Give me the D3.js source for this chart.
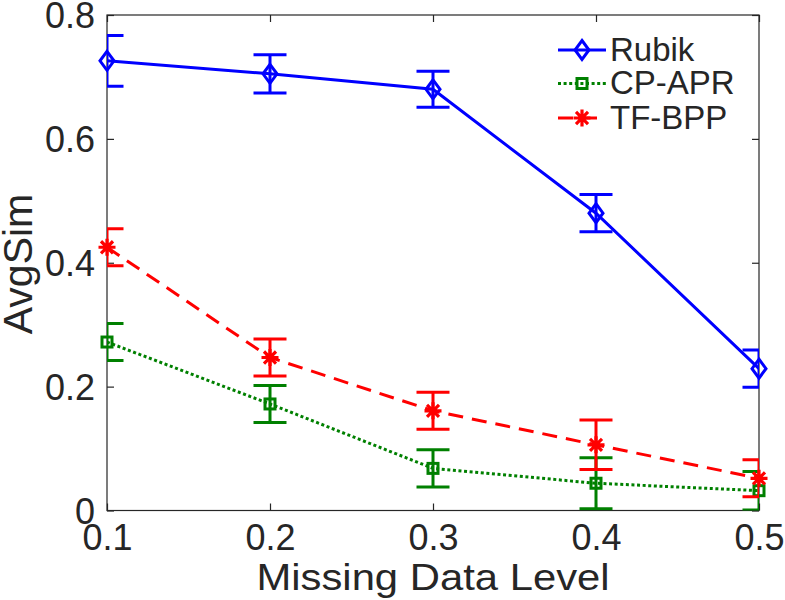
<!DOCTYPE html>
<html>
<head>
<meta charset="utf-8">
<script src="https://cdn.jsdelivr.net/npm/d3@7"></script>
<style>
  html, body { margin: 0; padding: 0; background: #fff; }
  svg { display: block; }
  text { font-family: "Liberation Sans", Arial, Helvetica, sans-serif; fill: #262626; }
</style>
</head>
<body>
<svg id="chart" width="785" height="600"></svg>
<script>
// ---- data ----
const missingLevels = [0.1, 0.2, 0.3, 0.4, 0.5];
const seriesNames = ["Rubik", "CP-APR", "TF-BPP"];
const rubikMean = [0.726, 0.705, 0.680, 0.480, 0.229];
const rubikErr  = [0.041, 0.031, 0.029, 0.030, 0.030];
const cpaprMean = [0.272, 0.172, 0.068, 0.044, 0.032];
const cpaprErr  = [0.030, 0.030, 0.030, 0.041, 0.031];
const tfbppMean = [0.425, 0.247, 0.161, 0.106, 0.052];
const tfbppErr  = [0.030, 0.030, 0.030, 0.040, 0.030];
const xTicks = [0.1, 0.2, 0.3, 0.4, 0.5];
const yTicks = [0, 0.2, 0.4, 0.6, 0.8];
const xTickLabels = ["0.1", "0.2", "0.3", "0.4", "0.5"];
const yTickLabels = ["0", "0.2", "0.4", "0.6", "0.8"];
const xTitle = "Missing Data Level";
const yTitle = "AvgSim";

// ---- layout ----
const svg = d3.select("#chart");
const L = 107, R = 759, T = 15, B = 510.5;
const x = d3.scaleLinear().domain([0.1, 0.5]).range([L, R]);
const y = d3.scaleLinear().domain([0, 0.8]).range([B, T]);
const axisColor = "#262626";

svg.append("defs").append("clipPath").attr("id", "plotclip")
  .append("rect").attr("x", L).attr("y", T).attr("width", R - L).attr("height", B - T);

// axes box + ticks
const gAx = svg.append("g");
const tickLen = 7;
const axBottom = gAx.append("g").attr("transform", `translate(0,${B})`)
  .call(d3.axisBottom(x).tickValues(xTicks).tickSize(-tickLen).tickFormat((d, i) => xTickLabels[i]));
const axTop = gAx.append("g").attr("transform", `translate(0,${T})`)
  .call(d3.axisTop(x).tickValues(xTicks).tickSize(-tickLen).tickFormat(""));
const axLeft = gAx.append("g").attr("transform", `translate(${L},0)`)
  .call(d3.axisLeft(y).tickValues(yTicks).tickSize(-tickLen).tickFormat((d, i) => yTickLabels[i]));
const axRight = gAx.append("g").attr("transform", `translate(${R},0)`)
  .call(d3.axisRight(y).tickValues(yTicks).tickSize(-tickLen).tickFormat(""));

[axBottom, axTop, axLeft, axRight].forEach(g => {
  g.select(".domain").remove();
  g.selectAll(".tick line").attr("stroke", axisColor).attr("stroke-width", 1.2);
});
gAx.append("rect").attr("x", L).attr("y", T).attr("width", R - L).attr("height", B - T)
  .attr("fill", "none").attr("stroke", axisColor).attr("stroke-width", 1.2);

axBottom.selectAll(".tick text")
  .attr("font-size", 36).attr("fill", axisColor).attr("y", 39.5).attr("dy", 0)
  .attr("font-family", "Liberation Sans, Arial, sans-serif");
axLeft.selectAll(".tick text")
  .attr("font-size", 36).attr("fill", axisColor).attr("x", -12).attr("dy", "0.36em")
  .attr("font-family", "Liberation Sans, Arial, sans-serif");

// axis titles
svg.append("text")
  .attr("transform", `translate(${(L + R) / 2},590) scale(1.13,1)`)
  .attr("text-anchor", "middle").attr("font-size", 37).text(xTitle);
svg.append("text")
  .attr("transform", `translate(32,264) rotate(-90)`)
  .attr("text-anchor", "middle").attr("font-size", 41).text(yTitle);

// ---- series ----
const series = [
  { name: seriesNames[0], mean: rubikMean, err: rubikErr, color: "#0000ff", dash: null, marker: "diamond" },
  { name: seriesNames[1], mean: cpaprMean, err: cpaprErr, color: "#008000", dash: "3,2.6", marker: "square" },
  { name: seriesNames[2], mean: tfbppMean, err: tfbppErr, color: "#ff0000", dash: "15,9", marker: "asterisk" }
];

function drawMarker(g, type, cx, cy, color) {
  if (type === "diamond") {
    g.append("path").attr("d", `M${cx},${cy - 9.5}L${cx + 7},${cy}L${cx},${cy + 9.5}L${cx - 7},${cy}Z`)
      .attr("fill", "none").attr("stroke", color).attr("stroke-width", 3);
  } else if (type === "square") {
    g.append("rect").attr("x", cx - 5).attr("y", cy - 5).attr("width", 10).attr("height", 10)
      .attr("fill", "none").attr("stroke", color).attr("stroke-width", 3);
  } else {
    const r = 8.5, d = r * 0.7071;
    g.append("path").attr("d",
      `M${cx - r},${cy}L${cx + r},${cy}M${cx},${cy - r}L${cx},${cy + r}` +
      `M${cx - d},${cy - d}L${cx + d},${cy + d}M${cx - d},${cy + d}L${cx + d},${cy - d}`)
      .attr("fill", "none").attr("stroke", color).attr("stroke-width", 3.2);
  }
}

const capHalf = 16.5;
series.forEach(s => {
  const gc = svg.append("g").attr("clip-path", "url(#plotclip)");
  missingLevels.forEach((lv, i) => {
    const cx = x(lv), y0 = y(s.mean[i] - s.err[i]), y1 = y(s.mean[i] + s.err[i]);
    gc.append("path")
      .attr("d", `M${cx},${y0}L${cx},${y1}M${cx - capHalf},${y0}L${cx + capHalf},${y0}M${cx - capHalf},${y1}L${cx + capHalf},${y1}`)
      .attr("fill", "none").attr("stroke", s.color).attr("stroke-width", 3);
  });
  const line = d3.line().x((d, i) => x(missingLevels[i])).y(d => y(d));
  gc.append("path").datum(s.mean).attr("d", line)
    .attr("fill", "none").attr("stroke", s.color).attr("stroke-width", 3)
    .attr("stroke-dasharray", s.dash);
  const gm = svg.append("g");
  missingLevels.forEach((lv, i) => drawMarker(gm, s.marker, x(lv), y(s.mean[i]), s.color));
});

// ---- legend ----
const legRows = [50, 83.5, 118];
const gl = svg.append("g");
series.forEach((s, i) => {
  const ly = legRows[i];
  gl.append("line").attr("x1", 558).attr("x2", 606).attr("y1", ly).attr("y2", ly)
    .attr("stroke", s.color).attr("stroke-width", 3).attr("stroke-dasharray", s.dash);
  drawMarker(gl, s.marker, 582, ly, s.color);
  gl.append("text").attr("x", 610).attr("y", ly + 10.5).attr("font-size", 33)
    .attr("fill", "#000").text(s.name);
});
</script>
</body>
</html>
